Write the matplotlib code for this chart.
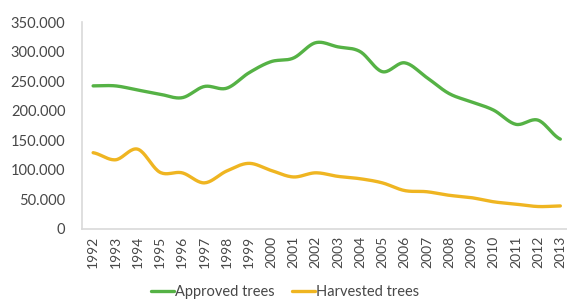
import numpy as np
import matplotlib.pyplot as plt
from matplotlib.ticker import FuncFormatter

years = [str(y) for y in range(1992, 2014)]
approved = [242000, 242000, 235000, 228000, 222000, 241000, 238000, 264000, 283000, 289000, 315000,
            308000, 300000, 266000, 281000, 256000, 229000, 215000, 201000, 177000, 184000, 152000]
harvested = [129000, 117000, 135000, 96000, 95000, 78000, 98000, 111000, 99000, 88000, 95000,
             89000, 85000, 78000, 65000, 63000, 57000, 53000, 46000, 42000, 38000, 39000]

green = '#55b245'
yellow = '#efb521'
text_col = '#474747'


def smooth(y, n=20):
    # catmull-rom through the points, like excel's smoothed line
    y = np.asarray(y, float)
    p = np.concatenate([[y[0]], y, [y[-1]]])
    xs, ys = [], []
    for i in range(len(y) - 1):
        p0, p1, p2, p3 = p[i], p[i + 1], p[i + 2], p[i + 3]
        t = np.linspace(0, 1, n, endpoint=False)
        ys.append(0.5 * (2 * p1 + (-p0 + p2) * t + (2 * p0 - 5 * p1 + 4 * p2 - p3) * t ** 2
                         + (-p0 + 3 * p1 - 3 * p2 + p3) * t ** 3))
        xs.append(i + t)
    xs.append([len(y) - 1])
    ys.append([y[-1]])
    return np.concatenate(xs), np.concatenate(ys)


plt.rcParams['font.family'] = ['Lato', 'DejaVu Sans']

fig = plt.figure(figsize=(5.67, 3.02), dpi=100)
ax = fig.add_axes([82 / 567, 73 / 302, 485 / 567, 207 / 302])

x, y = smooth(approved)
ax.plot(x, y, color=green, lw=2.4, label='Approved trees', solid_capstyle='round')
x, y = smooth(harvested)
ax.plot(x, y, color=yellow, lw=2.4, label='Harvested trees', solid_capstyle='round')

ax.set_xlim(-0.5, 21.3)
ax.set_ylim(0, 350000)
ax.set_yticks(range(0, 350001, 50000))
ax.yaxis.set_major_formatter(FuncFormatter(lambda v, p: f'{int(v):,}'.replace(',', '.')))
ax.set_xticks(range(len(years)))
ax.set_xticklabels(years, rotation=90)
ax.tick_params(axis='both', length=0, colors=text_col)
ax.tick_params(axis='y', pad=12, labelsize=10.5)
ax.tick_params(axis='x', pad=5, labelsize=10)

for s in ['top', 'right']:
    ax.spines[s].set_visible(False)
for s in ['left', 'bottom']:
    ax.spines[s].set_color('#d9d9d9')
    ax.spines[s].set_linewidth(1.2)

fig.legend(loc='center', bbox_to_anchor=(285 / 567, 1 - 292 / 302), ncol=2, frameon=False,
           fontsize=10.5, handlelength=1.6, handletextpad=0.05, columnspacing=1.2,
           labelcolor=text_col)

fig.savefig('out.png', dpi=100)
